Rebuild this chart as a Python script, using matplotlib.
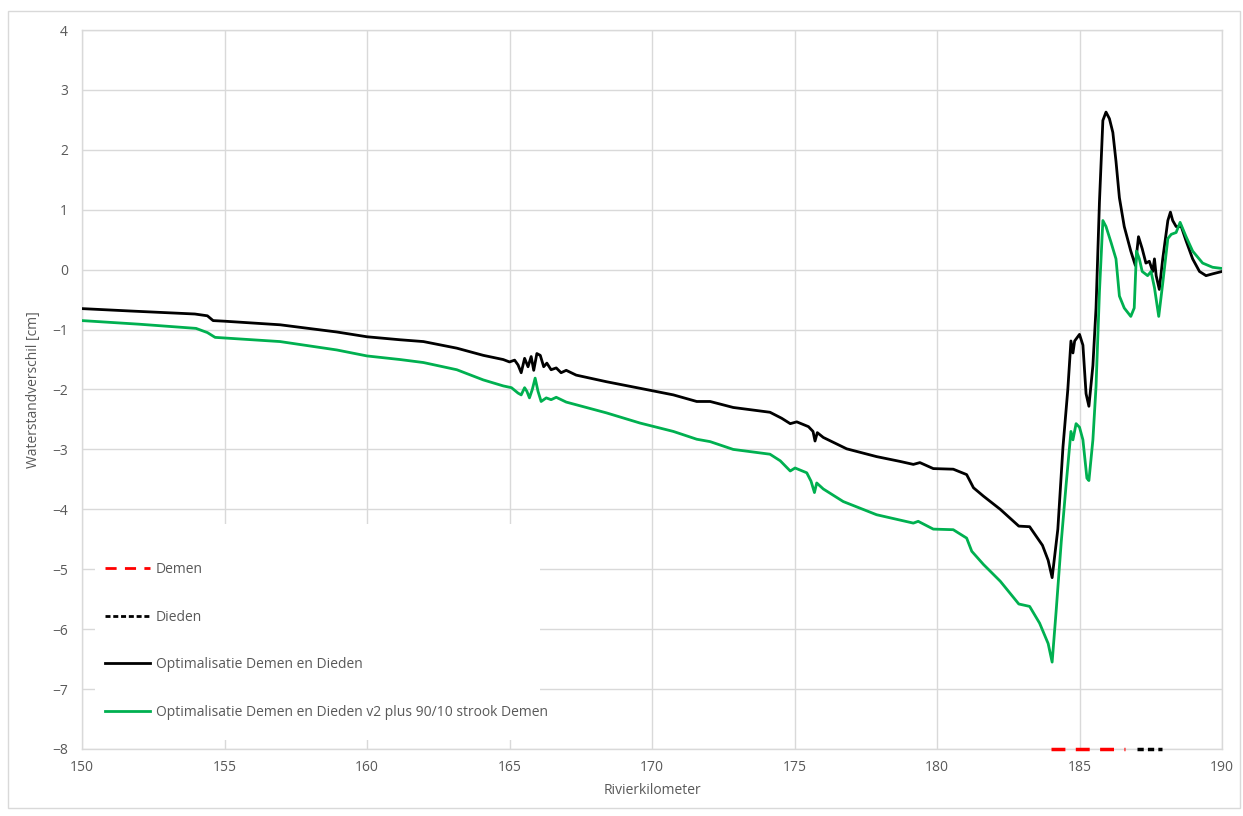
import matplotlib
matplotlib.use("Agg")
import matplotlib.pyplot as plt
from matplotlib.patches import Rectangle
from matplotlib.lines import Line2D

plt.rcParams['font.family'] = ['Open Sans', 'DejaVu Sans']

# ---- data ----
km_black = [150.0, 151.7, 153.96, 154.4, 154.6, 155.0, 156.95, 158.94, 160.0, 161.16, 161.98,
            163.15, 164.08, 164.78, 165.0, 165.18, 165.3, 165.41, 165.53, 165.65, 165.76, 165.85,
            165.96, 166.08, 166.2, 166.31, 166.46, 166.64, 166.81, 166.99, 167.34, 168.4, 169.58,
            170.75, 171.57, 172.04, 172.85, 174.14, 174.55, 174.85, 175.08, 175.49, 175.65, 175.72,
            175.8, 176.01, 176.83, 177.88, 178.7, 179.17, 179.4, 179.87, 180.57, 181.04, 181.28,
            181.63, 182.22, 182.87, 183.25, 183.7, 183.9, 184.04, 184.24, 184.42, 184.59, 184.7,
            184.77, 184.83, 185.0, 185.12, 185.23, 185.33, 185.47, 185.58, 185.7, 185.82, 185.93,
            186.05, 186.17, 186.28, 186.4, 186.57, 186.8, 186.96, 187.07, 187.2, 187.33, 187.45,
            187.57, 187.63, 187.69, 187.8, 187.92, 188.1, 188.19, 188.27, 188.39, 188.57, 188.74,
            188.97, 189.21, 189.44, 189.67, 190.0]
val_black = [-0.65, -0.69, -0.74, -0.77, -0.85, -0.86, -0.92, -1.04, -1.12, -1.17, -1.2,
             -1.31, -1.43, -1.5, -1.54, -1.51, -1.59, -1.72, -1.48, -1.62, -1.45, -1.68,
             -1.4, -1.43, -1.62, -1.56, -1.67, -1.64, -1.72, -1.68, -1.76, -1.87, -1.98,
             -2.09, -2.2, -2.2, -2.3, -2.38, -2.48, -2.57, -2.54, -2.62, -2.7, -2.86,
             -2.72, -2.8, -2.99, -3.12, -3.2, -3.25, -3.22, -3.32, -3.33, -3.42, -3.64,
             -3.78, -4.0, -4.28, -4.29, -4.6, -4.85, -5.14, -4.33, -2.96, -2.0, -1.19,
             -1.39, -1.19, -1.08, -1.26, -2.07, -2.28, -1.6, -0.64, 1.13, 2.49, 2.63,
             2.52, 2.29, 1.81, 1.2, 0.72, 0.31, 0.07, 0.55, 0.35, 0.11, 0.14,
             -0.03, 0.18, -0.1, -0.33, 0.18, 0.82, 0.96, 0.82, 0.72, 0.72, 0.48,
             0.18, -0.03, -0.1, -0.07, -0.03]

km_green = [150.0, 152.0, 154.0, 154.4, 154.67, 156.95, 158.94, 160.0, 161.16, 161.98, 163.15,
            164.08, 164.78, 165.07, 165.3, 165.41, 165.53, 165.61, 165.7, 165.8, 165.9, 166.0,
            166.11, 166.29, 166.46, 166.64, 166.99, 168.4, 169.58, 170.75, 171.57, 172.04, 172.85,
            174.14, 174.5, 174.85, 175.02, 175.43, 175.58, 175.7, 175.78, 176.01, 176.71, 177.88,
            179.17, 179.34, 179.87, 180.57, 181.04, 181.22, 181.63, 182.22, 182.87, 183.25, 183.6,
            183.9, 184.04, 184.18, 184.36, 184.53, 184.7, 184.77, 184.88, 185.0, 185.12, 185.26,
            185.33, 185.47, 185.58, 185.7, 185.82, 185.93, 186.11, 186.28, 186.4, 186.57, 186.8,
            186.92, 187.0, 187.1, 187.2, 187.39, 187.51, 187.63, 187.78, 187.92, 188.1, 188.22,
            188.39, 188.53, 188.74, 188.97, 189.32, 189.67, 190.0]
val_green = [-0.85, -0.91, -0.98, -1.05, -1.13, -1.2, -1.34, -1.44, -1.5, -1.55, -1.67,
             -1.84, -1.94, -1.97, -2.06, -2.09, -1.97, -2.03, -2.14, -2.0, -1.81, -2.03,
             -2.2, -2.14, -2.17, -2.13, -2.21, -2.39, -2.56, -2.7, -2.83, -2.87, -3.0,
             -3.08, -3.19, -3.36, -3.31, -3.39, -3.53, -3.72, -3.56, -3.66, -3.87, -4.09,
             -4.23, -4.2, -4.33, -4.34, -4.48, -4.7, -4.92, -5.2, -5.58, -5.62, -5.9,
             -6.24, -6.55, -5.7, -4.54, -3.59, -2.7, -2.84, -2.57, -2.63, -2.84, -3.48,
             -3.52, -2.84, -1.95, -0.37, 0.82, 0.72, 0.45, 0.18, -0.44, -0.64, -0.78,
             -0.64, 0.31, 0.18, -0.03, -0.1, -0.03, -0.3, -0.78, -0.23, 0.52, 0.59,
             0.62, 0.79, 0.55, 0.31, 0.11, 0.04, 0.02]

km_demen = [184.0, 186.6]
val_demen = [-8.0, -8.0]
km_dieden = [187.0, 187.9]
val_dieden = [-8.0, -8.0]

labels = ["Demen", "Dieden", "Optimalisatie Demen en Dieden",
          "Optimalisatie Demen en Dieden v2 plus 90/10 strook Demen"]
x_ticks = [150, 155, 160, 165, 170, 175, 180, 185, 190]
y_ticks = [-8, -7, -6, -5, -4, -3, -2, -1, 0, 1, 2, 3, 4]

# ---- figure ----
W, H = 1243, 816
fig = plt.figure(figsize=(W / 100, H / 100), dpi=100)
fig.patches.append(Rectangle((8 / W, 1 - 808 / H), (1240 - 8) / W, (808 - 11) / H,
                             transform=fig.transFigure, fill=False,
                             edgecolor='#d9d9d9', linewidth=1.0))
ax = fig.add_axes([82 / W, 1 - 749 / H, (1222 - 82) / W, (749 - 30) / H])

grey = '#d9d9d9'
text_col = '#595959'
green = '#00b050'

ax.set_xlim(150, 190)
ax.set_ylim(-8, 4)
ax.set_xticks(x_ticks)
ax.set_yticks(y_ticks)
ax.grid(True, color=grey, linewidth=1.0, zorder=0)
for s in ax.spines.values():
    s.set_color(grey)
    s.set_linewidth(1.0)
ax.tick_params(length=0, labelsize=10, labelcolor=text_col)
ax.tick_params(axis='y', pad=10)
ax.tick_params(axis='x', pad=8)
ax.set_axisbelow(True)

# white legend area hiding gridlines
ax.add_patch(Rectangle((0.0115, 0.0125), 0.39, 0.30, transform=ax.transAxes,
                       facecolor='white', edgecolor='none', zorder=1.5))

ax.plot(km_black, val_black, color='black', linewidth=2.0, zorder=3)
ax.plot(km_green, val_green, color=green, linewidth=2.0, zorder=3)
ax.plot(km_demen, val_demen, color='red', linewidth=2.5, linestyle=(0, (4, 3)), zorder=4, clip_on=False)
ax.plot(km_dieden, val_dieden, color='black', linewidth=2.5, linestyle=(0, (1.8, 1.2)), zorder=4, clip_on=False)

handles = [
    Line2D([], [], color='red', linewidth=2.0, linestyle=(0, (4, 3))),
    Line2D([], [], color='black', linewidth=2.0, linestyle=(0, (1.8, 1.0))),
    Line2D([], [], color='black', linewidth=2.0),
    Line2D([], [], color=green, linewidth=2.0),
]
leg = ax.legend(handles, labels, loc='lower left', bbox_to_anchor=(0.012, 0.027),
                frameon=False, fontsize=10, labelspacing=2.35, handlelength=3.2,
                handletextpad=0.45, borderpad=0.2)
for t in leg.get_texts():
    t.set_color(text_col)
leg.set_zorder(5)

ax.set_xlabel("Rivierkilometer", fontsize=10, color=text_col, labelpad=6)
ax.set_ylabel("Waterstandverschil [cm]", fontsize=10, color=text_col, labelpad=8)

fig.savefig("out.png", dpi=100)
